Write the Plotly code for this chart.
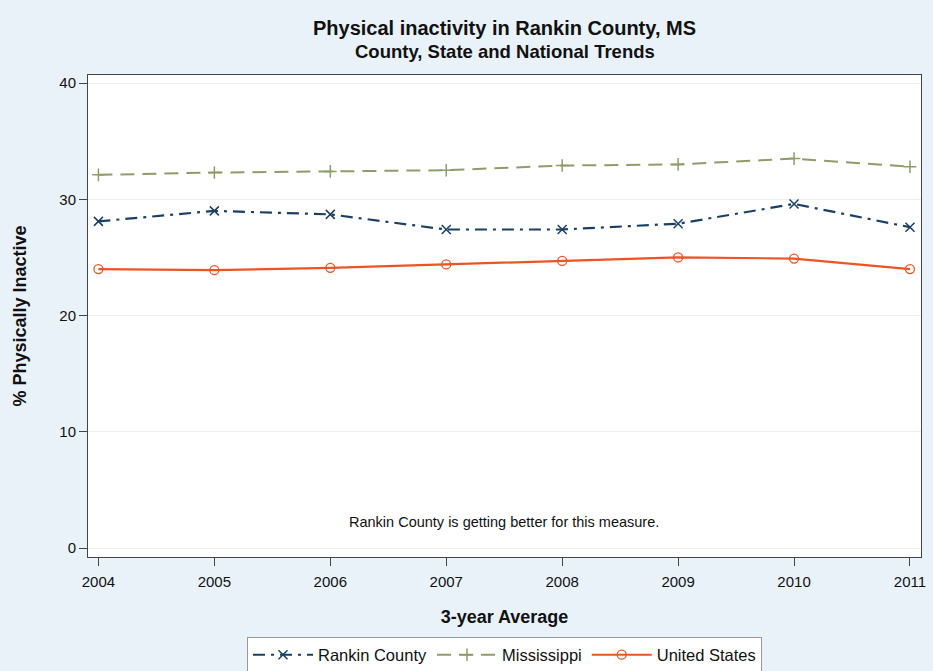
import plotly.graph_objects as go

years = [2004, 2005, 2006, 2007, 2008, 2009, 2010, 2011]
rankin = [28.1, 29.0, 28.7, 27.4, 27.4, 27.9, 29.6, 27.6]
mississippi = [32.1, 32.3, 32.4, 32.5, 32.9, 33.0, 33.5, 32.8]
united_states = [24.0, 23.9, 24.1, 24.4, 24.7, 25.0, 24.9, 24.0]
y_ticks = [0, 10, 20, 30, 40]

font = "Liberation Sans, Arial, sans-serif"

fig = go.Figure()
fig.add_trace(go.Scatter(
    x=years, y=rankin, name="Rankin County", mode="lines+markers",
    line=dict(color="#1a3f66", width=2.2, dash="12px,6px,3px,6px"),
    marker=dict(symbol="x-thin-open", size=9, line=dict(color="#1a3f66", width=1.5)),
))
fig.add_trace(go.Scatter(
    x=years, y=mississippi, name="Mississippi", mode="lines+markers",
    line=dict(color="#8f9c68", width=2, dash="14px,8px"),
    marker=dict(symbol="cross-thin-open", size=9, line=dict(color="#8f9c68", width=1.5)),
))
fig.add_trace(go.Scatter(
    x=years, y=united_states, name="United States", mode="lines+markers",
    line=dict(color="#ec5424", width=2.2),
    marker=dict(symbol="circle-open", size=9, line=dict(color="#ec5424", width=1.3)),
))

fig.add_annotation(
    x=2007.5, y=2.2, xref="x", yref="y", text="Rankin County is getting better for this measure.",
    showarrow=False, font=dict(family=font, size=14.5, color="#111"),
)
fig.add_annotation(
    x=0.5, y=1 + 23 / 482, xref="paper", yref="paper", xanchor="center", yanchor="middle",
    text="<b>County, State and National Trends</b>",
    showarrow=False, font=dict(family=font, size=18.5, color="#111"),
)

fig.update_layout(
    width=933, height=671,
    paper_bgcolor="#e9f2f9", plot_bgcolor="#ffffff",
    margin=dict(l=88, r=12, t=75, b=114, autoexpand=False),
    title=dict(
        text="<b>Physical inactivity in Rankin County, MS</b>",
        x=0.5, xanchor="center", xref="paper", yref="container",
        y=1 - 28 / 671, yanchor="middle",
        font=dict(family=font, size=20, color="#111"),
    ),
    font=dict(family=font, size=15, color="#111"),
    showlegend=True,
    legend=dict(
        orientation="h", x=0.5, xanchor="center", xref="paper", yref="container",
        y=16 / 671, yanchor="middle",
        bgcolor="#ffffff", bordercolor="#999", borderwidth=1,
        font=dict(family=font, size=16.5, color="#111"),
        itemwidth=60,
    ),
)
fig.update_xaxes(
    range=[2003.91, 2011.095], tickvals=years, ticks="outside", ticklen=8,
    tickcolor="#444", showgrid=False, showline=True, linecolor="#444", mirror=True,
    title=dict(text="<b>3-year Average</b>", font=dict(family=font, size=18), standoff=21),
    tickfont=dict(size=15), zeroline=False, ticklabelstandoff=3,
)
fig.update_yaxes(
    range=[-0.77, 40.69], tickvals=y_ticks, ticks="outside", ticklen=8,
    tickcolor="#444", showgrid=True, gridcolor="#eeeeee", showline=True,
    linecolor="#444", mirror=True, zeroline=False,
    title=dict(text="<b>% Physically Inactive</b>", font=dict(family=font, size=18), standoff=28),
    tickfont=dict(size=15),
)

fig.write_html(
    "out.html",
    config={"displayModeBar": False},
    post_script="document.body.style.margin='0';document.body.style.background='#e9f2f9';",
)
